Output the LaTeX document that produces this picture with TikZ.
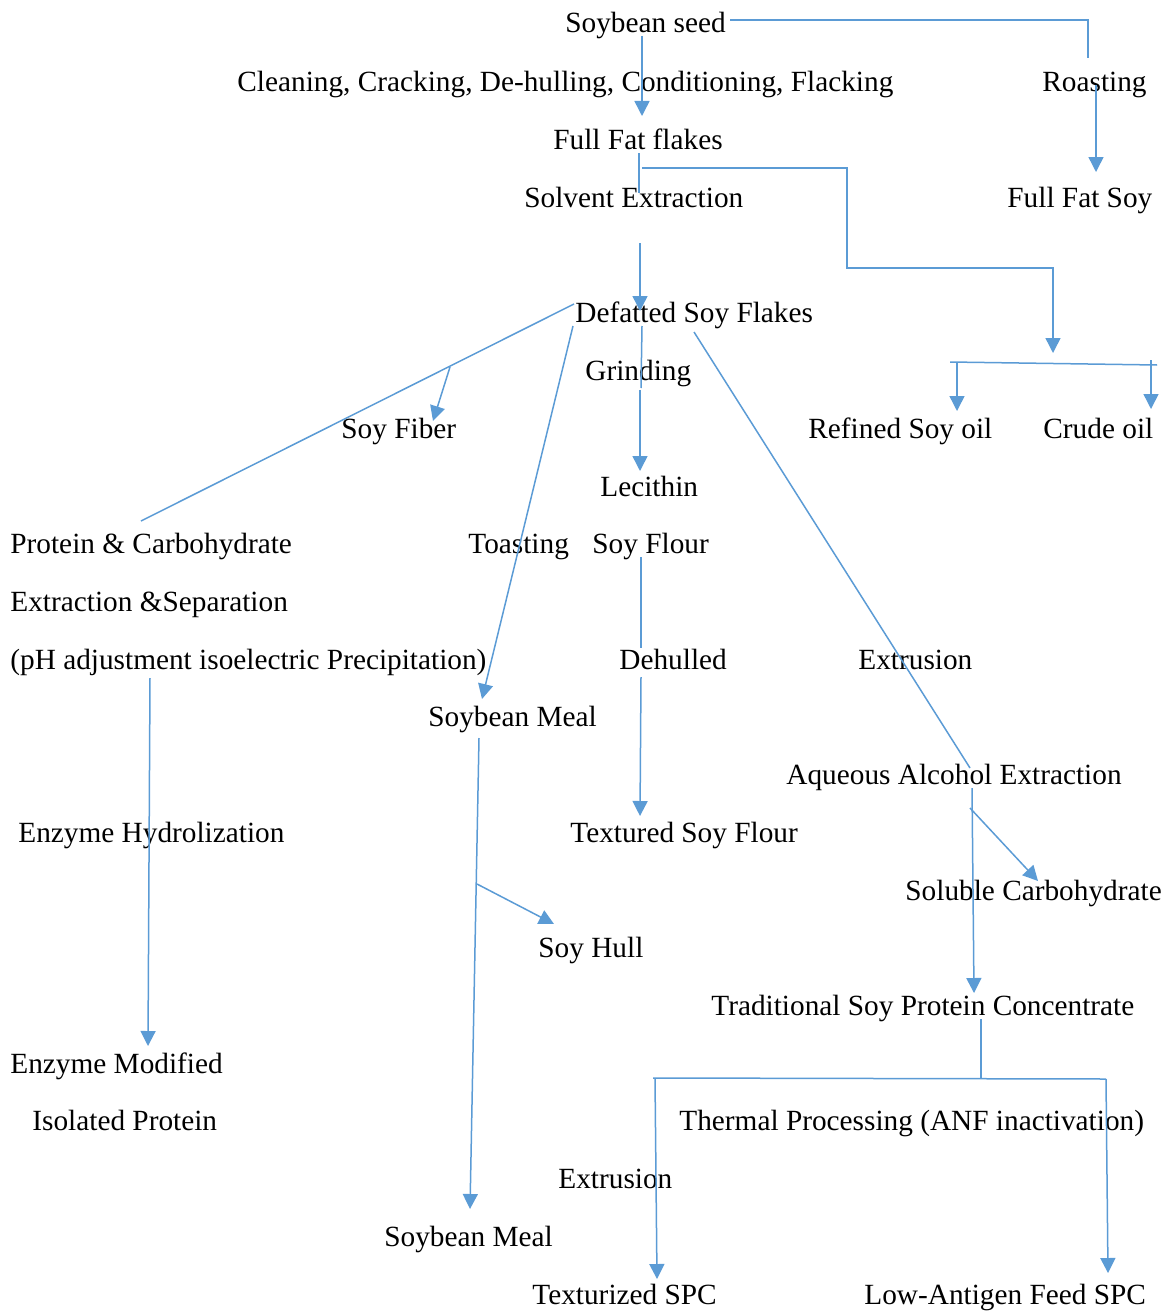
\documentclass[tikz,border=0pt]{standalone}
\usepackage{fontspec}
\setmainfont{Liberation Serif}
\usetikzlibrary{arrows.meta}
\definecolor{ln}{HTML}{5B9BD5}
\begin{document}
\begin{tikzpicture}[x=0.5pt,y=-0.5pt,
 lbl/.style={anchor=base west,inner sep=0pt,font=\fontsize{14.65pt}{17pt}\selectfont},
 conn/.style={draw=ln,line width=0.75pt},
 arr/.style={conn,-{Triangle[width=7.5pt,length=7.5pt]}}]
\useasboundingbox (0,0) rectangle (1165,1311);
% nodes
\node[lbl] (seed) at (565,33) {Soybean seed};
\node[lbl] (clean) at (237,91) {Cleaning, Cracking, De-hulling, Conditioning, Flacking};
\node[lbl] (roast) at (1042,91) {Roasting};
\node[lbl] (fff) at (553,149) {Full Fat flakes};
\node[lbl] (solv) at (524,207) {Solvent Extraction};
\node[lbl] (ffs) at (1007,207) {Full Fat Soy};
\node[lbl] (dsf) at (575,322) {Defatted Soy Flakes};
\node[lbl] (grind) at (585,380) {Grinding};
\node[lbl] (fiber) at (341,438) {Soy Fiber};
\node[lbl] (refined) at (808,438) {Refined Soy oil};
\node[lbl] (crude) at (1043,438) {Crude oil};
\node[lbl] (lec) at (600,496) {Lecithin};
\node[lbl] (pc1) at (10,553) {Protein \& Carbohydrate};
\node[lbl] (toast) at (468,553) {Toasting};
\node[lbl] (flour) at (592,553) {Soy Flour};
\node[lbl] (pc2) at (10,611) {Extraction \&Separation};
\node[lbl] (pc3) at (10,669) {(pH adjustment isoelectric Precipitation)};
\node[lbl] (dehul) at (619,669) {Dehulled};
\node[lbl] (extr1) at (858,669) {Extrusion};
\node[lbl] (meal1) at (428,726) {Soybean Meal};
\node[lbl] (aae) at (786,784) {Aqueous Alcohol Extraction};
\node[lbl] (enz) at (18,842) {Enzyme Hydrolization};
\node[lbl] (tsf) at (570,842) {Textured Soy Flour};
\node[lbl] (solc) at (905,900) {Soluble Carbohydrate};
\node[lbl] (hull) at (538,957) {Soy Hull};
\node[lbl] (tspc) at (711,1015) {Traditional Soy Protein Concentrate};
\node[lbl] (emod) at (10,1073) {Enzyme Modified};
\node[lbl] (iso) at (32,1130) {Isolated Protein};
\node[lbl] (therm) at (679,1130) {Thermal Processing (ANF inactivation)};
\node[lbl] (extr2) at (558,1188) {Extrusion};
\node[lbl] (meal2) at (384,1246) {Soybean Meal};
\node[lbl] (tex) at (532,1304) {Texturized SPC};
\node[lbl] (lafs) at (864,1304) {Low-Antigen Feed SPC};
% coordinates
\coordinate (s1) at (642,36);   \coordinate (s1e) at (642,116);
\coordinate (s2) at (730,20);   \coordinate (s2b) at (1088,20); \coordinate (s2e) at (1088,58);
\coordinate (r1) at (1096,85);  \coordinate (r1e) at (1096,172);
\coordinate (f1) at (639,153);  \coordinate (f1e) at (639,193);
\coordinate (f2) at (642,168);  \coordinate (f2b) at (847,168); \coordinate (f2c) at (847,268);
\coordinate (f2d) at (1053,268); \coordinate (f2e) at (1053,353);
\coordinate (v1) at (640,243);  \coordinate (v1e) at (640,311);
\coordinate (o1) at (950,362);  \coordinate (o1e) at (1157,365);
\coordinate (o2) at (957,362);  \coordinate (o2e) at (957,411);
\coordinate (o3) at (1151,360); \coordinate (o3e) at (1151,409);
\coordinate (d1) at (574,304);  \coordinate (d1e) at (141,521);
\coordinate (fb) at (450,367);  \coordinate (fbe) at (433,421);
\coordinate (t1) at (573,326);  \coordinate (t1e) at (482,699);
\coordinate (g1) at (642,326);  \coordinate (g1e) at (641,388);
\coordinate (g2) at (640,390);  \coordinate (g2e) at (640,471);
\coordinate (x1) at (694,332);  \coordinate (x1e) at (970,768);
\coordinate (sf1) at (641,557); \coordinate (sf1e) at (641,648);
\coordinate (sf2) at (641,677); \coordinate (sf2e) at (640,816);
\coordinate (p1) at (150,678);  \coordinate (p1e) at (148,1046);
\coordinate (m1) at (479,738);  \coordinate (m1e) at (470,1209);
\coordinate (h1) at (477,884);  \coordinate (h1e) at (554,924);
\coordinate (a1) at (972,788);  \coordinate (a1e) at (974,993);
\coordinate (c1) at (970,808);  \coordinate (c1e) at (1038,881);
\coordinate (tp) at (981,1019); \coordinate (tpe) at (981,1078);
\coordinate (b1) at (653,1078); \coordinate (b1e) at (1106,1079);
\coordinate (l1) at (655,1078); \coordinate (l1e) at (657,1279);
\coordinate (l2) at (1106,1079); \coordinate (l2e) at (1108,1273);
% connectors
\draw[arr] (s1) -- (s1e);
\draw[conn] (s2) -- (s2b) -- (s2e);
\draw[arr] (r1) -- (r1e);
\draw[conn] (f1) -- (f1e);
\draw[arr] (f2) -- (f2b) -- (f2c) -- (f2d) -- (f2e);
\draw[arr] (v1) -- (v1e);
\draw[conn] (o1) -- (o1e);
\draw[arr] (o2) -- (o2e);
\draw[arr] (o3) -- (o3e);
\draw[conn] (d1) -- (d1e);
\draw[arr] (fb) -- (fbe);
\draw[arr] (t1) -- (t1e);
\draw[conn] (g1) -- (g1e);
\draw[arr] (g2) -- (g2e);
\draw[conn] (x1) -- (x1e);
\draw[conn] (sf1) -- (sf1e);
\draw[arr] (sf2) -- (sf2e);
\draw[arr] (p1) -- (p1e);
\draw[arr] (m1) -- (m1e);
\draw[arr] (h1) -- (h1e);
\draw[arr] (a1) -- (a1e);
\draw[arr] (c1) -- (c1e);
\draw[conn] (tp) -- (tpe);
\draw[conn] (b1) -- (b1e);
\draw[arr] (l1) -- (l1e);
\draw[arr] (l2) -- (l2e);
\end{tikzpicture}
\end{document}
